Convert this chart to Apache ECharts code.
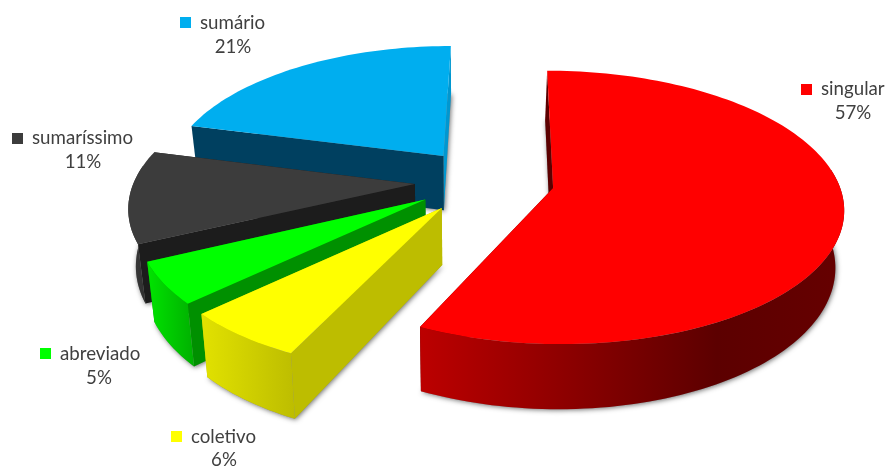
<!DOCTYPE html>
<html>
<head>
<meta charset="utf-8">
<style>html,body{margin:0;padding:0;background:#fff}#c{width:888px;height:468px}</style>
<script src="https://cdn.jsdelivr.net/npm/echarts@6/dist/echarts.min.js"></script>
</head>
<body>
<div id="c"></div>
<script>
// Pie slices in clockwise order, starting from twelve o'clock.
const categories = ['singular', 'coletivo', 'abreviado', 'sumaríssimo', 'sumário'];
const percents = [57, 6, 5, 11, 21];

// Top-face, cut-wall and rim colours per slice.
const topColors = ['#FF0000', '#FFFF00', '#00FF00', '#3C3C3C', '#00AEEF'];
const cutColors = ['#5C0000', '#BDBD00', '#009000', '#1C1C1C', '#004060'];
const endCutColors = ['#5C0000', '#BDBD00', '#009000', '#1C1C1C', '#0097D0'];
const rimStops = [
  [[0, '#BC0000'], [0.7, '#5C0000'], [1, '#660000']],
  [[0, '#E2E200'], [1, '#BDBD00']],
  [[0, '#00E400'], [1, '#00B000']],
  [[0, '#3C3C3C'], [1, '#2C2C2C']],
  [[0, '#0097D0'], [1, '#0097D0']]
];
// Horizontal foreshortening of each slice's radius.
const sliceWidth = [1, 0.985, 0.975, 0.985, 0.977];

// Legend entries: key square position and the two text lines.
const labelLayout = [
  { key: [801, 84], name: [821, 89], pct: [853, 113] },
  { key: [171, 431], name: [191, 437], pct: [224, 460] },
  { key: [40, 348], name: [60, 354], pct: [99, 378] },
  { key: [12, 133], name: [32, 138], pct: [83, 162] },
  { key: [180, 17], name: [200, 23], pct: [233, 47] }
];

// Camera model of the tilted pie.
const view = {
  cx: 484.6, cy: 181, rx: 285, ry: 132,
  explode: 0.245, persp: 0.14, perspX: 505,
  depth: 55.5, baseShrink: 0.977, vanishX: 460
};
const DEG = Math.PI / 180;

function topPoint(X, Y) {
  const s = 1 / (1 - view.persp * Y);
  return [view.perspX + (view.cx - view.perspX + view.rx * X) * s, view.cy + view.ry * Y * s];
}
function basePoint(X, Y) {
  const s = 1 / (1 - view.persp * Y);
  const p = topPoint(X, Y);
  return [view.vanishX + (p[0] - view.vanishX) * view.baseShrink, p[1] + view.depth * s];
}
function arcSamples(a0, a1, ox, oy, wx) {
  const pts = [];
  const n = Math.max(2, Math.ceil((a1 - a0) / 1.5));
  for (let i = 0; i <= n; i++) {
    const a = (a0 + (a1 - a0) * i / n) * DEG;
    pts.push([ox + wx * Math.sin(a), oy - Math.cos(a)]);
  }
  return pts;
}

const total = percents.reduce((a, b) => a + b, 0);
const startAngles = [];
percents.reduce((acc, v, i) => { startAngles[i] = acc; return acc + v / total * 360; }, 0);

function poly(points, fill, extra) {
  return {
    type: 'polygon',
    shape: { points: points },
    style: Object.assign({ fill: fill }, extra || {}),
    silent: true
  };
}

function renderSlice(params, api) {
  const i = api.value(0);
  const a0 = startAngles[i];
  const a1 = a0 + percents[i] / total * 360;
  const mid = (a0 + a1) / 2 * DEG;
  const ox = view.explode * Math.sin(mid);
  const oy = -view.explode * Math.cos(mid);
  const wx = sliceWidth[i];

  const arc = arcSamples(a0, a1, ox, oy, wx);
  const topFace = [topPoint(ox, oy)].concat(arc.map(p => topPoint(p[0], p[1])));
  const baseFace = [basePoint(ox, oy)].concat(arc.map(p => basePoint(p[0], p[1])));
  const first = arc[0];
  const last = arc[arc.length - 1];

  const children = [];
  // Soft ground shadow under the slice.
  children.push(poly(baseFace, '#8C8C8C', {
    shadowBlur: 5, shadowColor: 'rgba(0,0,0,0.55)', shadowOffsetX: 1, shadowOffsetY: 1
  }));
  // Cut walls.
  children.push(poly([topPoint(ox, oy), topPoint(last[0], last[1]), basePoint(last[0], last[1]), basePoint(ox, oy)], endCutColors[i]));
  children.push(poly([topPoint(ox, oy), topPoint(first[0], first[1]), basePoint(first[0], first[1]), basePoint(ox, oy)], cutColors[i]));
  // Rim: only the stretch of the arc facing the viewer.
  const r0 = Math.max(a0, 82);
  const r1 = Math.min(a1, 278);
  if (r1 > r0) {
    const rim = arcSamples(r0, r1, ox, oy, wx);
    const upper = rim.map(p => topPoint(p[0], p[1]));
    const lower = rim.map(p => basePoint(p[0], p[1])).reverse();
    const outline = upper.concat(lower);
    const xs = outline.map(p => p[0]);
    const fill = {
      type: 'linear', global: true,
      x: Math.min.apply(null, xs), y: 0, x2: Math.max.apply(null, xs), y2: 0,
      colorStops: rimStops[i].map(s => ({ offset: s[0], color: s[1] }))
    };
    children.push(poly(outline, fill));
  }
  children.push(poly(topFace, topColors[i]));

  // Legend key and text.
  const lay = labelLayout[i];
  const textStyle = { fill: '#404040', fontFamily: 'Lato', fontSize: 18.7, verticalAlign: 'middle' };
  children.push({ type: 'rect', shape: { x: lay.key[0], y: lay.key[1], width: 11, height: 11 }, style: { fill: topColors[i] }, silent: true });
  children.push({ type: 'text', style: Object.assign({ text: categories[i], x: lay.name[0], y: lay.name[1], align: 'left' }, textStyle), silent: true });
  children.push({ type: 'text', style: Object.assign({ text: percents[i] + '%', x: lay.pct[0], y: lay.pct[1], align: 'center' }, textStyle), silent: true });

  return { type: 'group', children: children };
}

// Back slices are painted first so nearer ones overlap them.
const paintOrder = [4, 3, 2, 1, 0];

const chart = echarts.init(document.getElementById('c'), null, { renderer: 'canvas' });
chart.setOption({
  animation: false,
  backgroundColor: '#FFFFFF',
  series: [{
    type: 'custom',
    coordinateSystem: 'none',
    renderItem: renderSlice,
    data: paintOrder.map(i => [i, percents[i]])
  }]
});
</script>
</body>
</html>
